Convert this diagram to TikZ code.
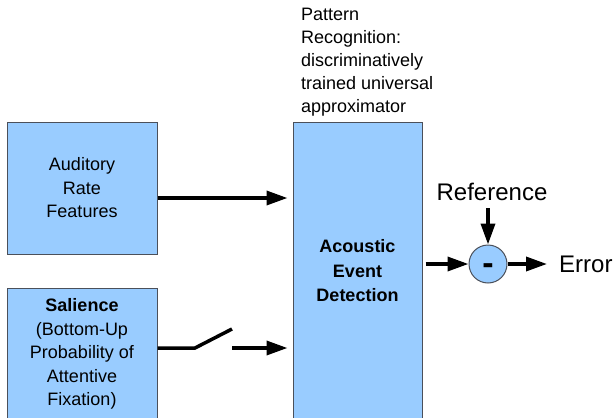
\documentclass[tikz,border=0pt]{standalone}
\usepackage{fontspec}
\setmainfont{Liberation Sans}
\usetikzlibrary{arrows.meta}
\definecolor{boxblue}{RGB}{153,204,255}
\definecolor{boxedge}{RGB}{75,80,90}

\begin{document}
\begin{tikzpicture}[x=1pt,y=-1pt,
  block/.style={draw=boxedge, line width=1pt, fill=boxblue, inner sep=0pt,
    align=center, font=\fontsize{18}{23.5}\selectfont},
  arr/.style={line width=3.5pt, -{Triangle[length=21pt,width=14pt]}},
  wire/.style={line width=3.5pt},
  label/.style={inner sep=0pt, font=\fontsize{24}{28}\selectfont}]
\useasboundingbox (0,0) rectangle (614,418);
\clip (0,0) rectangle (614,418);

% input feature blocks
\node[block, minimum width=150pt, minimum height=132pt] (aud) at (82,188)
  {Auditory\\Rate\\Features};
\node[block, minimum width=150pt, minimum height=132pt] (sal) at (82,354)
  {\textbf{Salience}\\(Bottom-Up\\Probability of\\Attentive\\Fixation)};

% classifier block and its caption
\node[block, minimum width=129pt, minimum height=298pt, font=\fontsize{18}{24.5}\selectfont\bfseries]
  (aed) at (357.5,271) {Acoustic\\Event\\Detection};
\node[anchor=west, inner sep=0pt, align=left, font=\fontsize{18}{23}\selectfont]
  (pat) at (301,62) {Pattern\\Recognition:\\discriminatively\\trained universal\\approximator};

% feature path
\coordinate (f1) at (157,198);
\draw[arr, shorten >=5pt] (aud.east |- f1) -- (aed.west |- f1);

% gated salience path (open switch)
\coordinate (sw1) at (195,348);
\coordinate (sw2) at (232,329);
\coordinate (sw3) at (232,348);
\draw[wire, line join=miter] (sal.east |- sw1) -- (sw1) -- (sw2);
\draw[arr, shorten >=5pt] (sw3) -- (aed.west |- sw3);

% comparison with the reference
\node[circle, draw=boxedge, fill=boxblue, line width=1pt, minimum size=38pt, inner sep=0pt]
  (sum) at (488,264) {};
\node[inner sep=0pt, font=\fontsize{34}{34}\selectfont\bfseries] (minus) at (488,269.5) {-};
\node[label] (ref) at (492,192) {Reference};
\node[label, anchor=west] (err) at (559,264) {Error};

\draw[arr, shorten <=3pt] (aed.east |- sum.west) -- (sum.west);
\draw[arr, shorten <=7pt] (sum.north |- ref.south) -- (sum.north);
\draw[arr, shorten >=12pt] (sum.east) -- (err.west);
\end{tikzpicture}
\end{document}
